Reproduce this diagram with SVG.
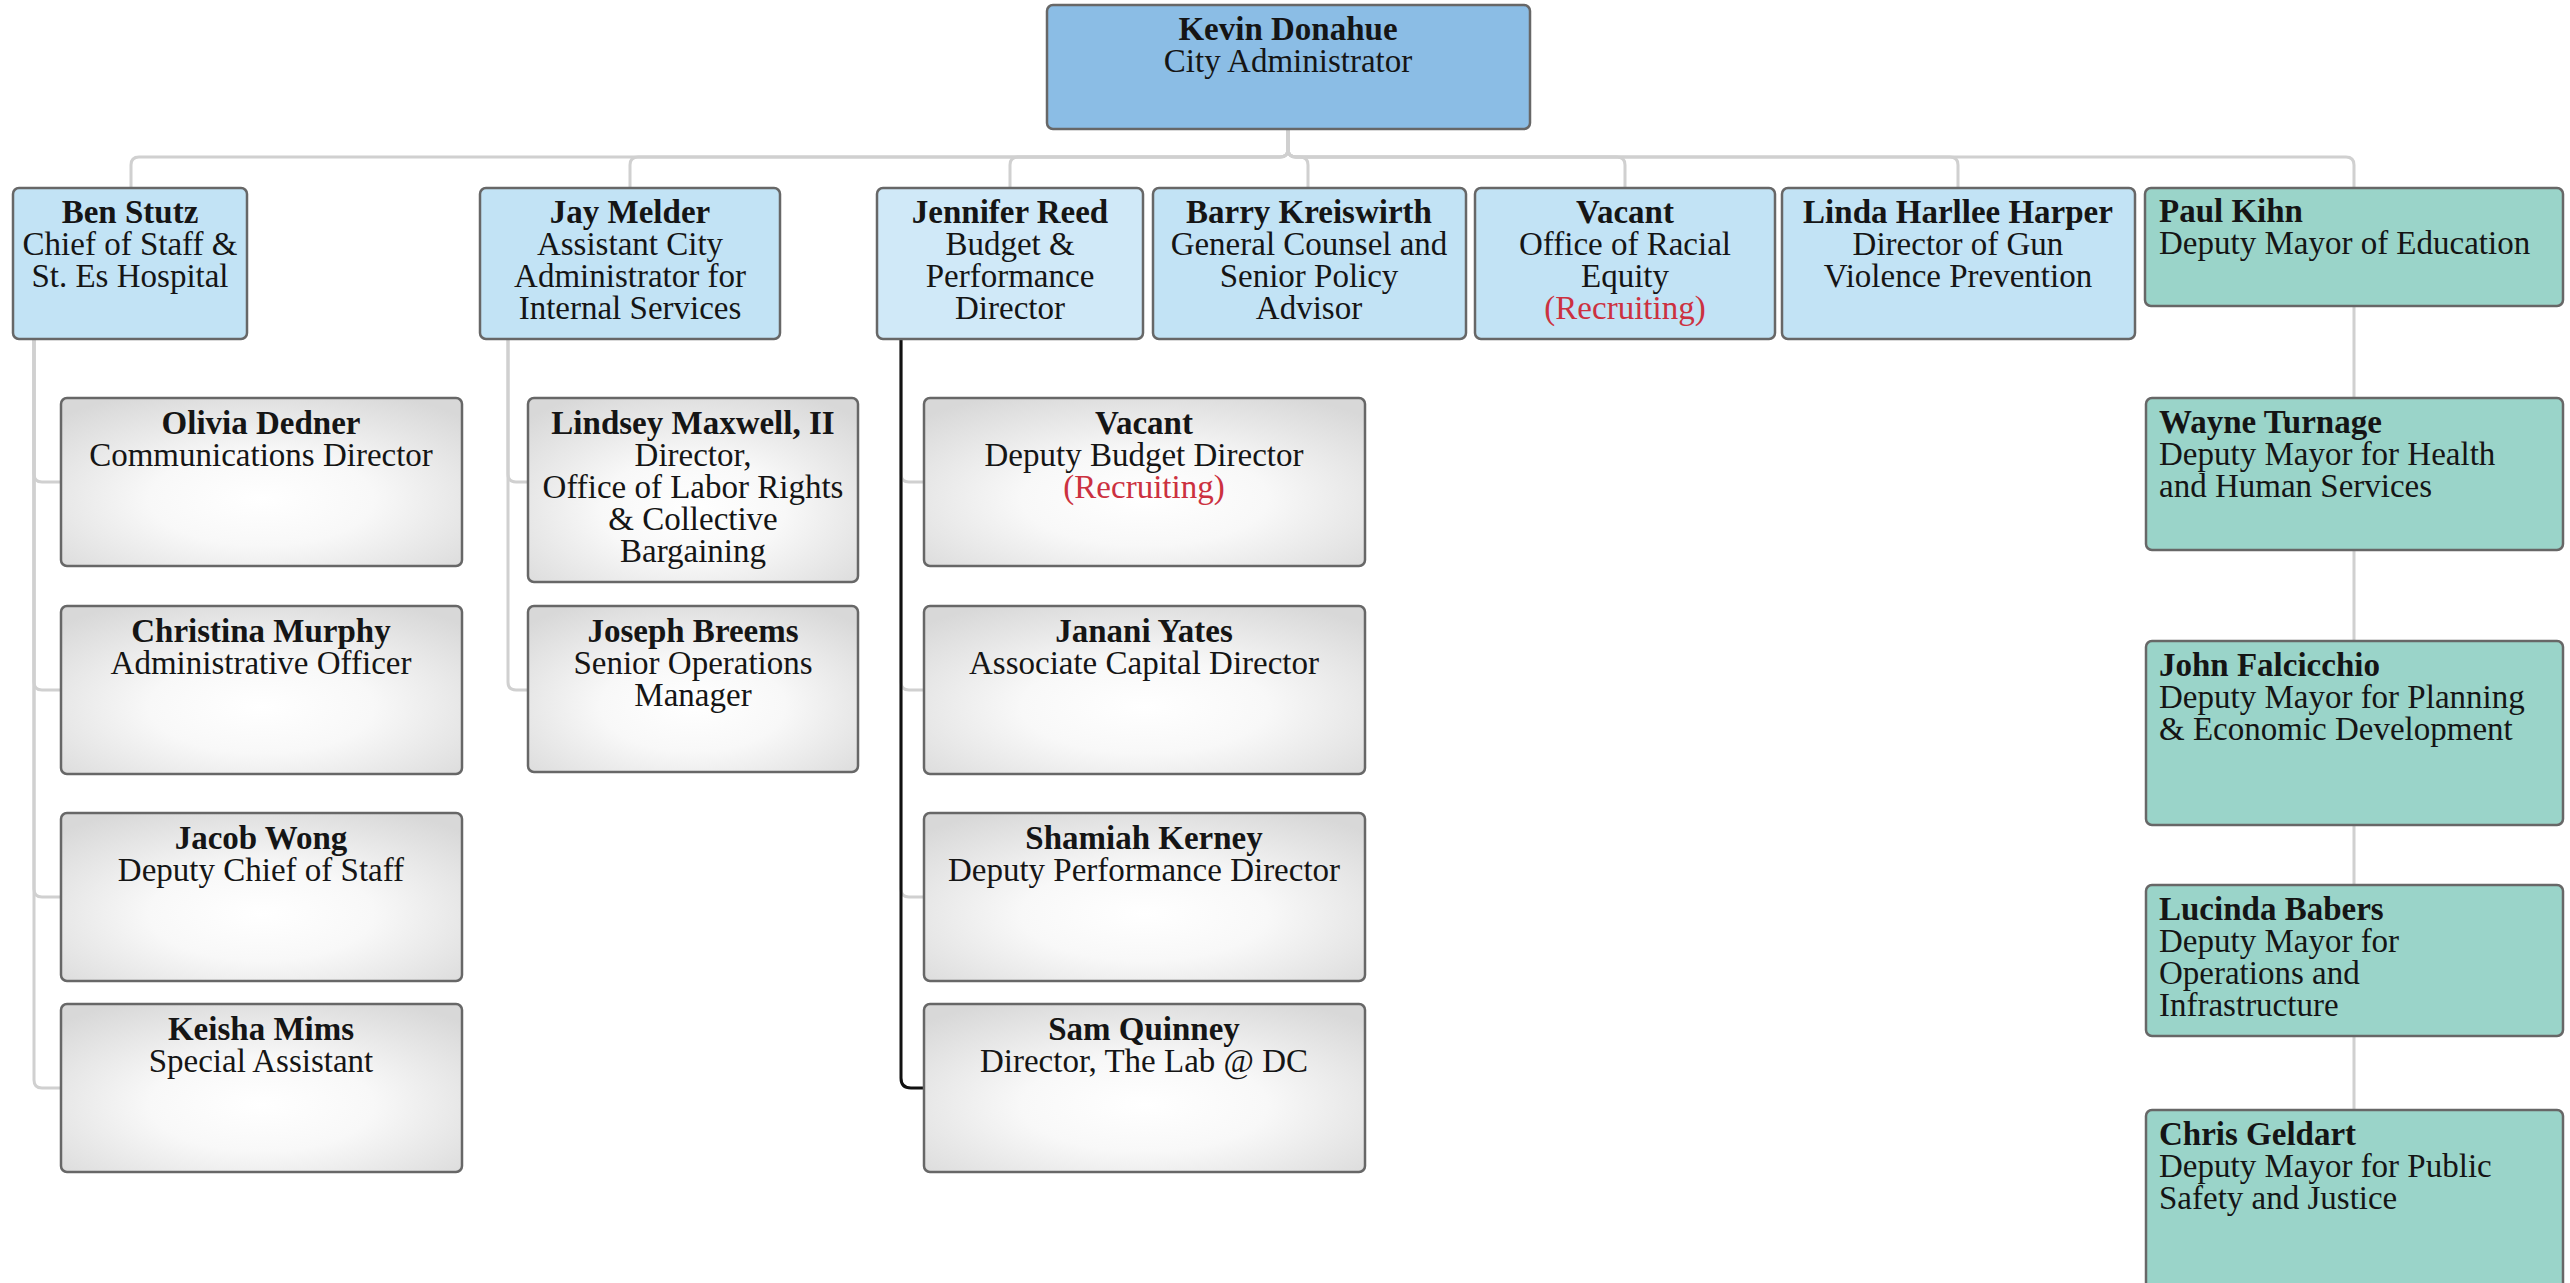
<svg xmlns="http://www.w3.org/2000/svg" width="2570" height="1283" viewBox="0 0 2570 1283">
<defs>
<radialGradient id="gray" cx="50%" cy="60%" r="70%">
<stop offset="0" stop-color="#ffffff"/>
<stop offset="0.4" stop-color="#f8f8f8"/>
<stop offset="1" stop-color="#d8d8d8"/>
</radialGradient>
<style>
.box{stroke:#676767;stroke-width:2.5}
.k{fill:#8bbde5}
.lb{fill:#c2e3f5}
.lj{fill:#d0e9f8}
.g{fill:url(#gray)}
.tl{fill:#9ad4c9}
text{font-family:"Liberation Serif","Times New Roman",serif;font-size:33px;fill:#151515}
.n{font-weight:bold;font-size:33px}
.c{text-anchor:middle}
.r{fill:#cc3140}
.con{fill:none;stroke:#d0d0d0;stroke-width:3}
.hl{fill:none;stroke:#111;stroke-width:3}
</style>
</defs>
<rect width="2570" height="1283" fill="#ffffff"/>
<g id="connectors">
<path class="con" d="M1288,129 V149 Q1288,157 1280,157 H139 Q131,157 131,165 V188"/>
<path class="con" d="M1288,129 V149 Q1288,157 1280,157 H638 Q630,157 630,165 V188"/>
<path class="con" d="M1288,129 V149 Q1288,157 1280,157 H1018 Q1010,157 1010,165 V188"/>
<path class="con" d="M1288,129 V149 Q1288,157 1296,157 H1300 Q1308,157 1308,165 V188"/>
<path class="con" d="M1288,129 V149 Q1288,157 1296,157 H1617 Q1625,157 1625,165 V188"/>
<path class="con" d="M1288,129 V149 Q1288,157 1296,157 H1950 Q1958,157 1958,165 V188"/>
<path class="con" d="M1288,129 V149 Q1288,157 1296,157 H2346 Q2354,157 2354,165 V188"/>
<path class="con" d="M34,339 V474 Q34,482 42,482 H61"/>
<path class="con" d="M34,339 V682 Q34,690 42,690 H61"/>
<path class="con" d="M34,339 V889 Q34,897 42,897 H61"/>
<path class="con" d="M34,339 V1080 Q34,1088 42,1088 H61"/>
<path class="con" d="M508,339 V474 Q508,482 516,482 H528"/>
<path class="con" d="M508,339 V682 Q508,690 516,690 H528"/>
<path class="con" d="M901,339 V474 Q901,482 909,482 H924"/>
<path class="con" d="M901,339 V682 Q901,690 909,690 H924"/>
<path class="con" d="M901,339 V889 Q901,897 909,897 H924"/>
<path class="con" d="M2354,306 V398 M2354,550 V641 M2354,825 V885 M2354,1036 V1110"/>
<path class="hl" d="M901,339 V1078 Q901,1088 911,1088 H924"/>
</g>
<g id="kevin">
<rect class="box k" x="1047" y="5" width="483" height="124" rx="6"/>
<text class="n c" x="1288" y="40">Kevin Donahue</text>
<text class="c" x="1288" y="72">City Administrator</text>
</g>
<g id="ben">
<rect class="box lb" x="13" y="188" width="234" height="151" rx="6"/>
<text class="n c" x="130" y="223">Ben Stutz</text>
<text class="c" x="130" y="255">Chief of Staff &amp;</text>
<text class="c" x="130" y="287">St. Es Hospital</text>
</g>
<g id="jay">
<rect class="box lb" x="480" y="188" width="300" height="151" rx="6"/>
<text class="n c" x="630" y="223">Jay Melder</text>
<text class="c" x="630" y="255">Assistant City</text>
<text class="c" x="630" y="287">Administrator for</text>
<text class="c" x="630" y="319">Internal Services</text>
</g>
<g id="jennifer">
<rect class="box lj" x="877" y="188" width="266" height="151" rx="6"/>
<text class="n c" x="1010" y="223">Jennifer Reed</text>
<text class="c" x="1010" y="255">Budget &amp;</text>
<text class="c" x="1010" y="287">Performance</text>
<text class="c" x="1010" y="319">Director</text>
</g>
<g id="barry">
<rect class="box lb" x="1153" y="188" width="313" height="151" rx="6"/>
<text class="n c" x="1309" y="223">Barry Kreiswirth</text>
<text class="c" x="1309" y="255">General Counsel and</text>
<text class="c" x="1309" y="287">Senior Policy</text>
<text class="c" x="1309" y="319">Advisor</text>
</g>
<g id="racial-equity">
<rect class="box lb" x="1475" y="188" width="300" height="151" rx="6"/>
<text class="n c" x="1625" y="223">Vacant</text>
<text class="c" x="1625" y="255">Office of Racial</text>
<text class="c" x="1625" y="287">Equity</text>
<text class="c r" x="1625" y="319">(Recruiting)</text>
</g>
<g id="linda">
<rect class="box lb" x="1782" y="188" width="353" height="151" rx="6"/>
<text class="n c" x="1958" y="223">Linda Harllee Harper</text>
<text class="c" x="1958" y="255">Director of Gun</text>
<text class="c" x="1958" y="287">Violence Prevention</text>
</g>
<g id="paul">
<rect class="box tl" x="2145" y="188" width="418" height="118" rx="6"/>
<text class="n" x="2159" y="222">Paul Kihn</text>
<text x="2159" y="254">Deputy Mayor of Education</text>
</g>
<g id="olivia">
<rect class="box g" x="61" y="398" width="401" height="168" rx="6"/>
<text class="n c" x="261" y="434">Olivia Dedner</text>
<text class="c" x="261" y="466">Communications Director</text>
</g>
<g id="christina">
<rect class="box g" x="61" y="606" width="401" height="168" rx="6"/>
<text class="n c" x="261" y="642">Christina Murphy</text>
<text class="c" x="261" y="674">Administrative Officer</text>
</g>
<g id="jacob">
<rect class="box g" x="61" y="813" width="401" height="168" rx="6"/>
<text class="n c" x="261" y="849">Jacob Wong</text>
<text class="c" x="261" y="881">Deputy Chief of Staff</text>
</g>
<g id="keisha">
<rect class="box g" x="61" y="1004" width="401" height="168" rx="6"/>
<text class="n c" x="261" y="1040">Keisha Mims</text>
<text class="c" x="261" y="1072">Special Assistant</text>
</g>
<g id="lindsey">
<rect class="box g" x="528" y="398" width="330" height="184" rx="6"/>
<text class="n c" x="693" y="434">Lindsey Maxwell, II</text>
<text class="c" x="693" y="466">Director,</text>
<text class="c" x="693" y="498">Office of Labor Rights</text>
<text class="c" x="693" y="530">&amp; Collective</text>
<text class="c" x="693" y="562">Bargaining</text>
</g>
<g id="joseph">
<rect class="box g" x="528" y="606" width="330" height="166" rx="6"/>
<text class="n c" x="693" y="642">Joseph Breems</text>
<text class="c" x="693" y="674">Senior Operations</text>
<text class="c" x="693" y="706">Manager</text>
</g>
<g id="deputy-budget">
<rect class="box g" x="924" y="398" width="441" height="168" rx="6"/>
<text class="n c" x="1144" y="434">Vacant</text>
<text class="c" x="1144" y="466">Deputy Budget Director</text>
<text class="c r" x="1144" y="498">(Recruiting)</text>
</g>
<g id="janani">
<rect class="box g" x="924" y="606" width="441" height="168" rx="6"/>
<text class="n c" x="1144" y="642">Janani Yates</text>
<text class="c" x="1144" y="674">Associate Capital Director</text>
</g>
<g id="shamiah">
<rect class="box g" x="924" y="813" width="441" height="168" rx="6"/>
<text class="n c" x="1144" y="849">Shamiah Kerney</text>
<text class="c" x="1144" y="881">Deputy Performance Director</text>
</g>
<g id="sam">
<rect class="box g" x="924" y="1004" width="441" height="168" rx="6"/>
<text class="n c" x="1144" y="1040">Sam Quinney</text>
<text class="c" x="1144" y="1072">Director, The Lab @ DC</text>
</g>
<g id="wayne">
<rect class="box tl" x="2146" y="398" width="417" height="152" rx="6"/>
<text class="n" x="2159" y="433">Wayne Turnage</text>
<text x="2159" y="465">Deputy Mayor for Health</text>
<text x="2159" y="497">and Human Services</text>
</g>
<g id="john">
<rect class="box tl" x="2146" y="641" width="417" height="184" rx="6"/>
<text class="n" x="2159" y="676">John Falcicchio</text>
<text x="2159" y="708">Deputy Mayor for Planning</text>
<text x="2159" y="740">&amp; Economic Development</text>
</g>
<g id="lucinda">
<rect class="box tl" x="2146" y="885" width="417" height="151" rx="6"/>
<text class="n" x="2159" y="920">Lucinda Babers</text>
<text x="2159" y="952">Deputy Mayor for</text>
<text x="2159" y="984">Operations and</text>
<text x="2159" y="1016">Infrastructure</text>
</g>
<g id="chris">
<rect class="box tl" x="2146" y="1110" width="417" height="200" rx="6"/>
<text class="n" x="2159" y="1145">Chris Geldart</text>
<text x="2159" y="1177">Deputy Mayor for Public</text>
<text x="2159" y="1209">Safety and Justice</text>
</g>
</svg>
